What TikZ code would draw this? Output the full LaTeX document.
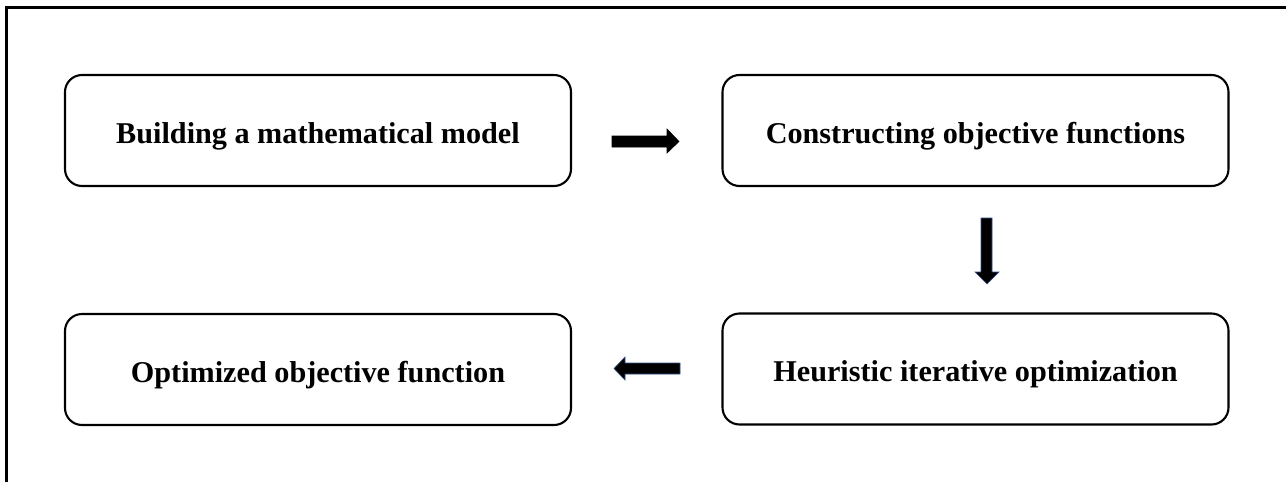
\documentclass[tikz,border=0pt]{standalone}
\usepackage{fontspec}
\setmainfont{Liberation Serif}
\begin{document}
\begin{tikzpicture}[x=1pt,y=-1pt,
  stepbox/.style={draw=black, line width=2.1pt, rounded corners=17pt, minimum width=506pt, minimum height=111pt, font=\fontsize{30.2}{34}\selectfont\bfseries, inner sep=0pt, text height=25pt, text depth=0pt},
  fatarrow/.style={fill=black, draw=black, line width=0.6pt}]
\useasboundingbox (0,0) rectangle (1286,482);
\fill[white] (0,0) rectangle (1286,482);
\draw[line width=2.6pt] (6.5,490) -- (6.5,7.5) -- (1295,7.5);
\node[stepbox] (b1) at (318,130.5) {Building a mathematical model};
\node[stepbox] (b2) at (975.5,130.5) {Constructing objective functions};
\node[stepbox] (b3) at (318,369.5) {Optimized objective function};
\node[stepbox] (b4) at (975.5,369) {Heuristic iterative optimization};
% right arrow
\fill[fatarrow] (612,136) -- (667,136) -- (667,129) -- (679,141.5) -- (667,153) -- (667,147) -- (612,147) -- cycle;
% down arrow
\fill[fatarrow, draw={rgb,255:red,50;green,80;blue,140}] (981,218) -- (992,218) -- (992,272) -- (999,272) -- (987,284) -- (975,272) -- (981,272) -- cycle;
% left arrow
\fill[fatarrow, draw={rgb,255:red,50;green,80;blue,140}] (680,363) -- (625,363) -- (625,357) -- (614,368.5) -- (625,380) -- (625,374) -- (680,374) -- cycle;
\end{tikzpicture}
\end{document}
